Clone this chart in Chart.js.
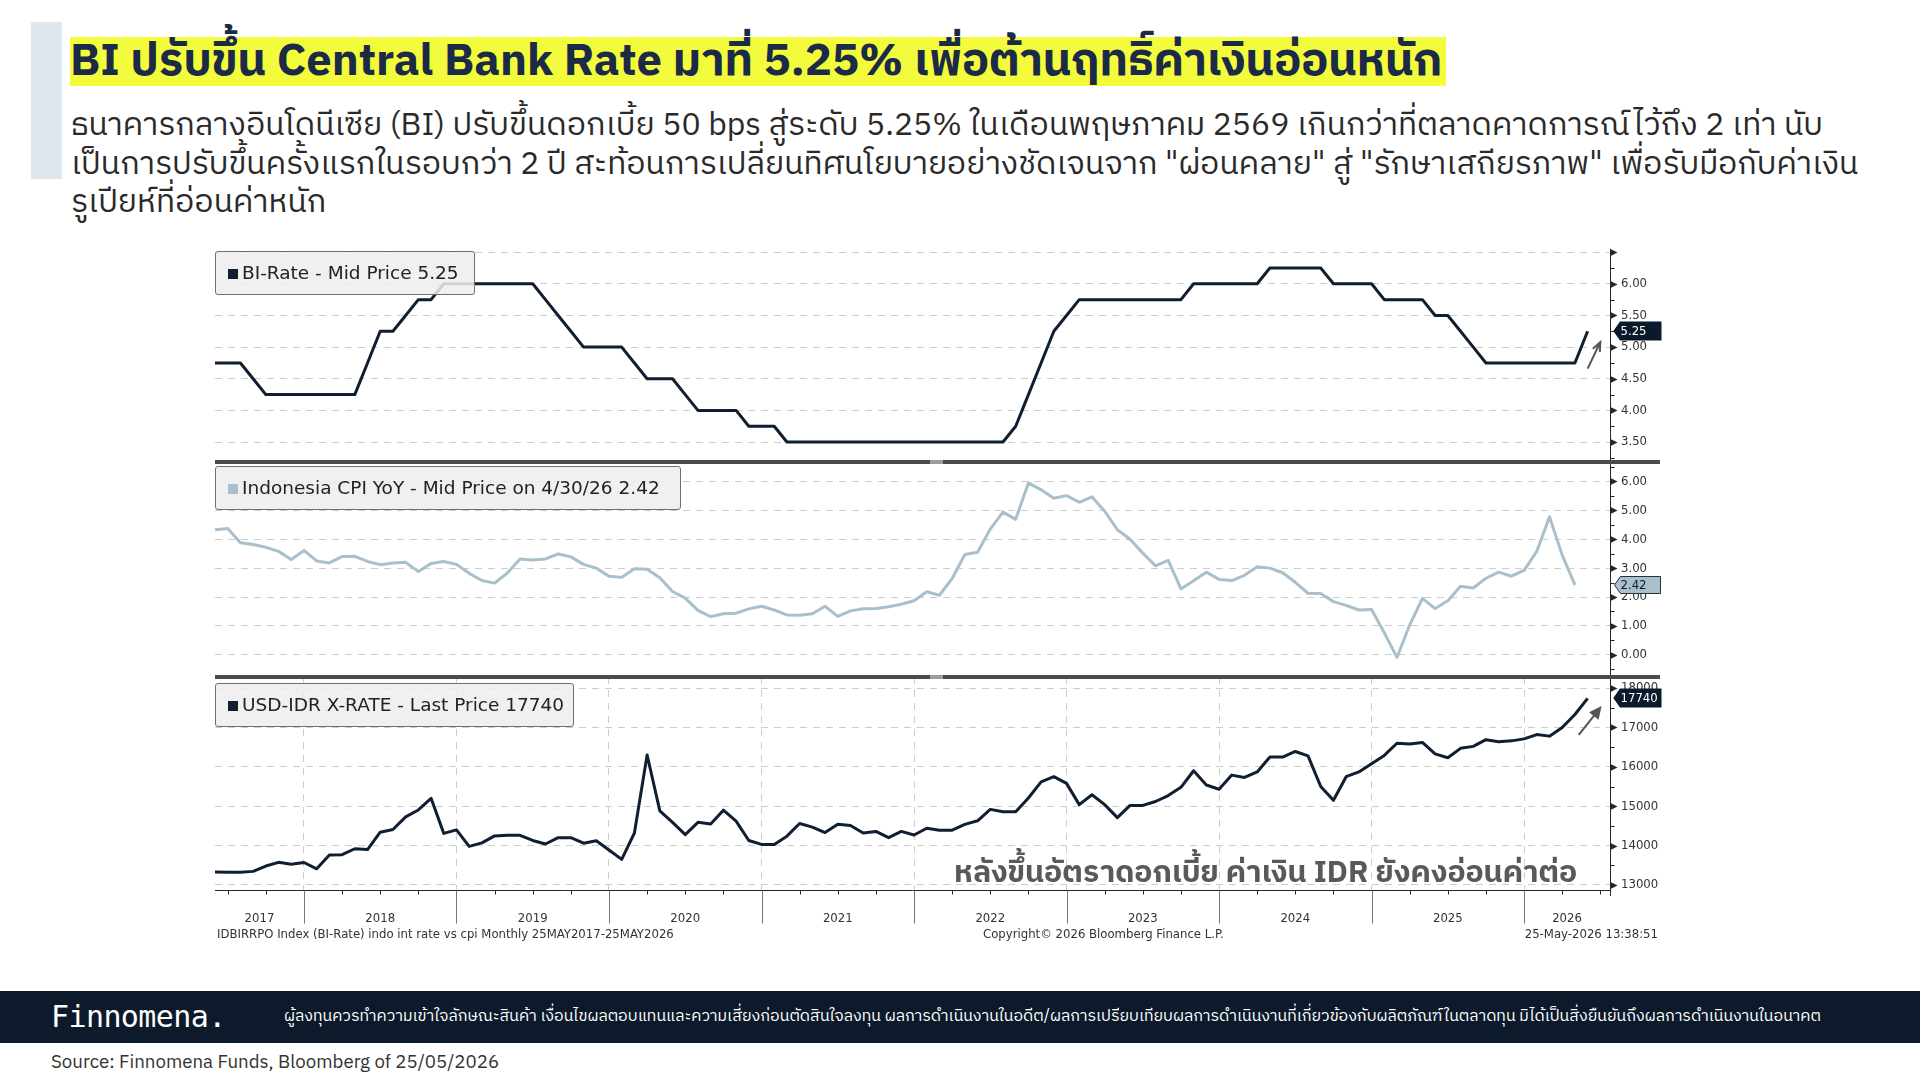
<!DOCTYPE html>
<html>
<head>
<meta charset="utf-8">
<script src="https://cdn.jsdelivr.net/npm/chart.js@4.4.1/dist/chart.umd.min.js"></script>
<style>
  body { margin: 0; width: 1920px; height: 1080px; background: #fff; position: relative; overflow: hidden;
         font-family: "IBM Plex Sans Thai", "Noto Sans Thai", "Noto Sans", sans-serif; }
  .abs { position: absolute; white-space: nowrap; }
  #bar { left: 31px; top: 22px; width: 31px; height: 157px; background: #dfe7ee; }
  #title { left: 70px; top: 37px; height: 49px; line-height: 49px; background: #f3fc3c; color: #1b2a47;
           font-weight: 700; font-size: 45.3px; padding-right: 4px; }
  #lead { left: 71px; top: 107px; font-size: 32px; line-height: 38.6px; color: #2a2a2a; }
  canvas { position: absolute; left: 215px; }
  .sep { position: absolute; left: 215px; width: 1445px; height: 4px; background: #4b4b4b; }
  .grip { position: absolute; left: 930px; width: 13px; height: 4px; background: #9c9c9c; }
  .legend { position: absolute; left: 215px; height: 44px; box-sizing: border-box; border: 1px solid #6f6f6f;
            border-radius: 3px; background: rgba(238,238,238,0.86); color: #222; white-space: nowrap;
            font-family: "DejaVu Sans", sans-serif; font-size: 18.5px;
            line-height: 42px; padding-left: 12px; }
  .legend i { display: inline-block; width: 10px; height: 10px; margin-right: 4px; }
  .bbg { font-family: "DejaVu Sans Condensed", "Liberation Sans Narrow", sans-serif; font-size: 13px; color: #333; top: 926px; }
  #note { right: 343px; top: 848px; font-size: 30.3px; font-weight: 700; color: #58595b; }
  #foot { left: 0; top: 991px; width: 1920px; height: 52px; background: #0c1a2b; }
  #brand { left: 51px; top: 991px; line-height: 52px; color: #fff; font-size: 30px; letter-spacing: -0.6px;
           font-family: "DejaVu Sans Mono", monospace; }
  #disc { left: 284px; top: 991px; line-height: 52px; color: #fff; font-size: 16px; }
  #src { left: 51px; top: 1047px; font-size: 18.7px; color: #333; }
</style>
</head>
<body>
<div id="bar" class="abs"></div>
<div id="title" class="abs">BI ปรับขึ้น Central Bank Rate มาที่ 5.25% เพื่อต้านฤทธิ์ค่าเงินอ่อนหนัก</div>
<div id="lead" class="abs">ธนาคารกลางอินโดนีเซีย (BI) ปรับขึ้นดอกเบี้ย 50 bps สู่ระดับ 5.25% ในเดือนพฤษภาคม 2569 เกินกว่าที่ตลาดคาดการณ์ไว้ถึง 2 เท่า นับ<br>เป็นการปรับขึ้นครั้งแรกในรอบกว่า 2 ปี สะท้อนการเปลี่ยนทิศนโยบายอย่างชัดเจนจาก "ผ่อนคลาย" สู่ "รักษาเสถียรภาพ" เพื่อรับมือกับค่าเงิน<br>รูเปียห์ที่อ่อนค่าหนัก</div>

<canvas id="c1" width="1455" height="213" style="top:249px"></canvas>
<canvas id="c2" width="1455" height="215" style="top:462px"></canvas>
<canvas id="c3" width="1455" height="263" style="top:677px"></canvas>

<div class="sep" style="top:460px"></div><div class="grip" style="top:460px"></div>
<div class="sep" style="top:675px"></div><div class="grip" style="top:675px"></div>

<div class="legend" style="top:251px;width:260px"><i style="background:#0f1e30"></i>BI-Rate - Mid Price 5.25</div>
<div class="legend" style="top:466px;width:466px"><i style="background:#a9c0cc"></i>Indonesia CPI YoY - Mid Price on 4/30/26 2.42</div>
<div class="legend" style="top:683px;width:359px"><i style="background:#0f1e30"></i>USD-IDR X-RATE - Last Price 17740</div>

<div id="note" class="abs">หลังขึ้นอัตราดอกเบี้ย ค่าเงิน IDR ยังคงอ่อนค่าต่อ</div>

<div class="abs bbg" style="left:217px">IDBIRRPO Index (BI-Rate) indo int rate vs cpi Monthly 25MAY2017-25MAY2026</div>
<div class="abs bbg" style="left:983px">Copyright© 2026 Bloomberg Finance L.P.</div>
<div class="abs bbg" style="right:262px">25-May-2026 13:38:51</div>

<div id="foot" class="abs"></div>
<div id="brand" class="abs">Finnomena.</div>
<div id="disc" class="abs">ผู้ลงทุนควรทำความเข้าใจลักษณะสินค้า เงื่อนไขผลตอบแทนและความเสี่ยงก่อนตัดสินใจลงทุน ผลการดำเนินงานในอดีต/ผลการเปรียบเทียบผลการดำเนินงานที่เกี่ยวข้องกับผลิตภัณฑ์ในตลาดทุน มิได้เป็นสิ่งยืนยันถึงผลการดำเนินงานในอนาคต</div>
<div id="src" class="abs">Source: Finnomena Funds, Bloomberg of 25/05/2026</div>

<script>
// monthly series, first point = end of May 2017
// BI rate, May-2017 .. May-2026
const biRate = [
  4.75, 4.75, 4.75, 4.50, 4.25, 4.25, 4.25, 4.25,
  4.25, 4.25, 4.25, 4.25, 4.75, 5.25, 5.25, 5.50, 5.75, 5.75, 6.00, 6.00,
  6.00, 6.00, 6.00, 6.00, 6.00, 6.00, 5.75, 5.50, 5.25, 5.00, 5.00, 5.00,
  5.00, 4.75, 4.50, 4.50, 4.50, 4.25, 4.00, 4.00, 4.00, 4.00, 3.75, 3.75,
  3.75, 3.50, 3.50, 3.50, 3.50, 3.50, 3.50, 3.50, 3.50, 3.50, 3.50, 3.50,
  3.50, 3.50, 3.50, 3.50, 3.50, 3.50, 3.50, 3.75, 4.25, 4.75, 5.25, 5.50,
  5.75, 5.75, 5.75, 5.75, 5.75, 5.75, 5.75, 5.75, 5.75, 6.00, 6.00, 6.00,
  6.00, 6.00, 6.00, 6.25, 6.25, 6.25, 6.25, 6.25, 6.00, 6.00, 6.00, 6.00,
  5.75, 5.75, 5.75, 5.75, 5.50, 5.50, 5.25, 5.00, 4.75, 4.75, 4.75, 4.75,
  4.75, 4.75, 4.75, 4.75, 5.25
];
// Indonesia CPI YoY, May-2017 .. Apr-2026
const cpiYoY = [
  4.33, 4.37, 3.88, 3.82, 3.72, 3.58, 3.30, 3.61,
  3.25, 3.18, 3.40, 3.41, 3.23, 3.12, 3.18, 3.20, 2.88, 3.16, 3.23, 3.13,
  2.82, 2.57, 2.48, 2.83, 3.32, 3.28, 3.32, 3.49, 3.39, 3.13, 3.00, 2.72,
  2.68, 2.98, 2.96, 2.67, 2.19, 1.96, 1.54, 1.32, 1.42, 1.44, 1.59, 1.68,
  1.55, 1.38, 1.37, 1.42, 1.68, 1.33, 1.52, 1.59, 1.60, 1.66, 1.75, 1.87,
  2.18, 2.06, 2.64, 3.47, 3.55, 4.35, 4.94, 4.69, 5.95, 5.71, 5.42, 5.51,
  5.28, 5.47, 4.97, 4.33, 4.00, 3.52, 3.08, 3.27, 2.28, 2.56, 2.86, 2.61,
  2.57, 2.75, 3.05, 3.00, 2.84, 2.51, 2.13, 2.12, 1.84, 1.71, 1.55, 1.57,
  0.76, -0.09, 1.03, 1.95, 1.60, 1.87, 2.37, 2.31, 2.65, 2.86, 2.72, 2.92,
  3.58, 4.78, 3.45, 2.42
];
// USD-IDR month-end, May-2017 .. May-2026
const usdIdr = [
  13330, 13320, 13325, 13345, 13480, 13575, 13525, 13570,
  13410, 13760, 13770, 13920, 13900, 14340, 14410, 14730, 14905, 15200, 14310, 14400,
  13980, 14070, 14245, 14260, 14260, 14130, 14040, 14200, 14200, 14060, 14125, 13890,
  13650, 14320, 16300, 14880, 14590, 14280, 14590, 14550, 14900, 14620, 14130, 14030,
  14030, 14240, 14560, 14470, 14330, 14540, 14510, 14320, 14360, 14200, 14360, 14270,
  14440, 14390, 14390, 14540, 14630, 14920, 14860, 14860, 15210, 15620, 15750, 15580,
  15040, 15290, 15040, 14710, 15020, 15020, 15120, 15270, 15480, 15900, 15540, 15430,
  15790, 15730, 15870, 16250, 16250, 16390, 16280, 15500, 15150, 15750, 15870, 16080,
  16290, 16600, 16580, 16620, 16330, 16230, 16470, 16520, 16690, 16640, 16660, 16710,
  16820, 16780, 17000, 17330, 17740
];
const yearLabels = ['2017', '2018', '2019', '2020', '2021', '2022', '2023', '2024', '2025', '2026'];

// x is measured in months since 1-Jan-2017
const FIRST_X = 5;
const X_MIN = 5, X_MAX = 114.76;
const yearBounds = yearLabels.slice(1).map((y, i) => 12 * (i + 1));
const yearCenters = yearLabels.map((y, i) => (Math.max(12 * i, X_MIN) + Math.min(12 * (i + 1), X_MAX)) / 2);

const axisFont = { family: '"DejaVu Sans Condensed", "Liberation Sans Narrow", sans-serif', size: 13 };
const NAVY = '#0f1e30', CPI_COL = '#a9c0cc';

function toPoints(arr) {
  return arr.map((v, i) => ({ x: FIRST_X + i, y: v }));
}

function arrow(ctx, x0, y0, x1, y1, filled) {
  const ang = Math.atan2(y1 - y0, x1 - x0), hl = filled ? 14 : 10, hw = filled ? 0.45 : 0.4;
  ctx.strokeStyle = '#555'; ctx.fillStyle = '#555'; ctx.lineWidth = 2;
  ctx.beginPath(); ctx.moveTo(x0, y0); ctx.lineTo(x1 - Math.cos(ang) * (filled ? 8 : 1), y1 - Math.sin(ang) * (filled ? 8 : 1)); ctx.stroke();
  ctx.beginPath();
  ctx.moveTo(x1 - hl * Math.cos(ang - hw), y1 - hl * Math.sin(ang - hw));
  ctx.lineTo(x1, y1);
  ctx.lineTo(x1 - hl * Math.cos(ang + hw), y1 - hl * Math.sin(ang + hw));
  if (filled) { ctx.closePath(); ctx.fill(); } else { ctx.stroke(); }
}

// axis line, Bloomberg-style tick marks, last-value tag and arrow
const decorPlugin = {
  id: 'decor',
  afterDatasetsDraw(chart, args, o) {
    const { ctx, chartArea: a } = chart;
    const xs = chart.scales.x, ys = chart.scales.y;
    const ax = Math.round(a.right) + 0.5;
    ctx.save();
    ctx.strokeStyle = '#262626'; ctx.fillStyle = '#262626'; ctx.lineWidth = 1;
    ctx.beginPath(); ctx.moveTo(ax, 0); ctx.lineTo(ax, a.bottom + (o.xAxis ? 6 : 0)); ctx.stroke();
    const k0 = Math.ceil(ys.min / o.minor), k1 = Math.floor(ys.max / o.minor);
    for (let k = k0; k <= k1; k++) {
      const py = Math.round(ys.getPixelForValue(k * o.minor)) + 0.5;
      if (k % o.ratio === 0) {
        ctx.beginPath(); ctx.moveTo(ax, py - 3.5); ctx.lineTo(ax + 7, py); ctx.lineTo(ax, py + 3.5); ctx.closePath(); ctx.fill();
      } else {
        ctx.beginPath(); ctx.moveTo(ax, py); ctx.lineTo(ax + 4, py); ctx.stroke();
      }
    }
    if (o.xAxis) {
      const by = Math.round(a.bottom) + 0.5;
      ctx.beginPath(); ctx.moveTo(a.left, by); ctx.lineTo(a.right, by); ctx.stroke();
      for (let q = Math.ceil(xs.min / 3); q <= Math.floor(xs.max / 3); q++) {
        const px = Math.round(xs.getPixelForValue(q * 3)) + 0.5;
        ctx.strokeStyle = q % 4 === 0 ? '#777' : '#262626';
        ctx.beginPath(); ctx.moveTo(px, by); ctx.lineTo(px, by + (q % 4 === 0 ? 33 : 4)); ctx.stroke();
      }
    }
    if (o.arrow) {
      const [fx, fy] = o.arrow.from, [tx, ty] = o.arrow.to;
      arrow(ctx, xs.getPixelForValue(fx), ys.getPixelForValue(fy), xs.getPixelForValue(tx), ys.getPixelForValue(ty), o.arrow.filled);
    }
    if (o.tag) {
      const py = Math.round(ys.getPixelForValue(o.tag.value));
      const l = ax + 4, r = l + 46;
      ctx.fillStyle = o.tag.fill; ctx.strokeStyle = o.tag.stroke;
      ctx.beginPath();
      ctx.moveTo(l, py); ctx.lineTo(l + 6, py - 8.5); ctx.lineTo(r, py - 8.5); ctx.lineTo(r, py + 8.5); ctx.lineTo(l + 6, py + 8.5); ctx.closePath();
      ctx.fill(); ctx.stroke();
      ctx.fillStyle = o.tag.color; ctx.font = '13px "DejaVu Sans Condensed", sans-serif';
      ctx.textBaseline = 'middle'; ctx.textAlign = 'left';
      ctx.fillText(o.tag.text, l + 6, py + 1);
    }
    ctx.restore();
  }
};

function xScale(show) {
  const s = {
    type: 'linear', min: X_MIN, max: X_MAX, display: show,
    afterBuildTicks: sc => { sc.ticks = yearBounds.concat(yearCenters).sort((p, q) => p - q).map(v => ({ value: v })); },
    ticks: {
      autoSkip: false, maxRotation: 0, padding: 21, color: '#333', font: axisFont,
      callback: v => { const i = yearCenters.indexOf(v); return i >= 0 ? yearLabels[i] : ''; }
    },
    grid: { drawTicks: false, lineWidth: 1, color: c => (c.tick && yearBounds.includes(c.tick.value)) ? '#cdcdcd' : 'rgba(0,0,0,0)' },
    border: { display: false, dash: [7, 6] }
  };
  if (show) s.afterFit = sc => { sc.height = 50; sc.paddingLeft = 0; sc.paddingRight = 0; };
  return s;
}

function makePanel(id, p) {
  return new Chart(document.getElementById(id), {
    type: 'line',
    data: { datasets: [{ data: p.data, borderColor: p.color, borderWidth: 3, pointRadius: 0, tension: 0, borderJoinStyle: 'round' }] },
    options: {
      responsive: false, animation: false,
      layout: { padding: 0 },
      plugins: { legend: { display: false }, tooltip: { enabled: false }, decor: p.decor },
      scales: {
        x: xScale(p.showX),
        y: {
          position: 'right', min: p.min, max: p.max,
          afterBuildTicks: sc => {
            const t = [];
            for (let k = Math.ceil(p.min / p.step); k * p.step <= p.max; k++) t.push({ value: k * p.step });
            sc.ticks = t;
          },
          afterFit: sc => { sc.width = 60; sc.paddingTop = 0; sc.paddingBottom = 0; },
          ticks: { padding: 11, color: '#333', font: axisFont, callback: p.fmt },
          grid: { color: '#cdcdcd', lineWidth: 1, drawTicks: false },
          border: { display: false, dash: [7, 6] }
        }
      }
    },
    plugins: [decorPlugin]
  });
}

makePanel('c1', {
  data: toPoints(biRate), color: NAVY, showX: false, min: 3.185, max: 6.55, step: 0.5,
  fmt: v => v > 6.4 ? '' : v.toFixed(2),
  decor: { minor: 0.25, ratio: 2, tag: { value: 5.25, text: '5.25', fill: '#0b1a2b', stroke: '#0b1a2b', color: '#fff' },
           arrow: { from: [113.0, 4.66], to: [114.0, 5.08], filled: false } }
});
makePanel('c2', {
  data: toPoints(cpiYoY), color: CPI_COL, showX: false, min: -0.77, max: 6.675, step: 1,
  fmt: v => v.toFixed(2),
  decor: { minor: 0.5, ratio: 2, tag: { value: 2.42, text: '2.42', fill: '#a9c0cc', stroke: '#26323d', color: '#0b1a2b' } }
});
makePanel('c3', {
  data: toPoints(usdIdr), color: NAVY, showX: true, min: 12872, max: 18282, step: 1000,
  fmt: v => String(v),
  decor: { minor: 500, ratio: 2, xAxis: true,
           tag: { value: 17740, text: '17740', fill: '#0b1a2b', stroke: '#0b1a2b', color: '#fff' },
           arrow: { from: [112.3, 16810], to: [114.1, 17545], filled: true } }
});
</script>
</body>
</html>
